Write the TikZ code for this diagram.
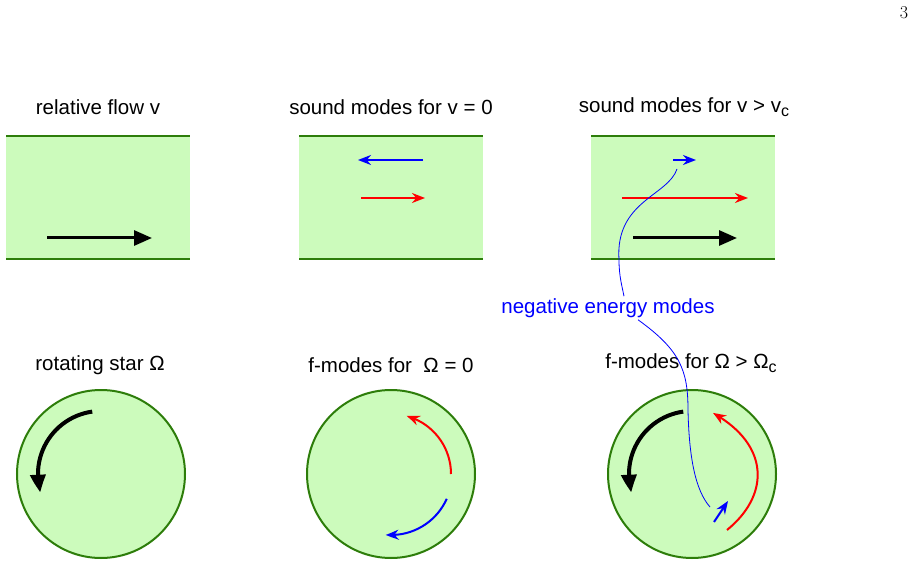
\documentclass[tikz,border=0pt]{standalone}
\usepackage{fontspec}
\setmainfont{Liberation Sans}
\newfontfamily\lmfont{Latin Modern Roman}
\usetikzlibrary{arrows.meta,bending}
\definecolor{pale}{RGB}{204,251,188}
\definecolor{dgreen}{RGB}{45,125,10}
\newcommand{\lowsub}[1]{{\fontsize{16}{16}\selectfont\raisebox{-4pt}{#1}}}
\begin{document}
\begin{tikzpicture}[x=1pt,y=1pt,
  lbl/.style={font=\fontsize{20.5}{23}\selectfont, inner sep=0},
  chan/.style={fill=pale, minimum width=184pt, minimum height=123pt, inner sep=0, anchor=south west},
  wall/.style={draw=dgreen, line width=2pt},
  star/.style={circle, fill=pale, draw=dgreen, line width=2pt, minimum size=168pt, inner sep=0},
  bigarr/.style={line width=3pt, -{Triangle[length=18pt,width=15pt]}},
  rotarr/.style={line width=4pt, -{Triangle[length=18pt,width=15pt,bend]}},
  modearr/.style={line width=2pt, -{Stealth[length=13pt,width=10pt,bend]}},
  pointer/.style={draw=blue, line width=0.8pt},
]
\useasboundingbox (0,0) rectangle (916,566);

% page number
\node[font=\lmfont\fontsize{18}{18}\selectfont, inner sep=0] (pg) at (904,553) {3};

% titles
\node[lbl] (t1) at (98,459) {relative flow v};
\node[lbl] (t2) at (391,459) {sound modes for v = 0};
\node[lbl] (t3) at (684,459) {sound modes for v > v\lowsub{c}};

% channels
\node[chan] (c1) at (6,307) {};
\node[chan] (c2) at (299,307) {};
\node[chan] (c3) at (591,307) {};
\foreach \c in {c1,c2,c3}{
  \draw[wall] (\c.north west) -- (\c.north east);
  \draw[wall] (\c.south west) -- (\c.south east);
}

% channel arrows
\draw[bigarr] (47,328) -- (152,328);
\draw[modearr, blue] (423,406) -- (358,406);
\draw[modearr, red] (361,368) -- (425,368);
\draw[modearr, blue] (673,406) -- (696,406);
\draw[modearr, red] (622,368) -- (748,368);
\draw[bigarr] (633,328) -- (737,328);

% circle labels
\node[lbl] (t4) at (100,201) {rotating star Ω};
\node[lbl] (t5) at (391,201) {f-modes for \ Ω = 0};
\node[lbl] (t6) at (691,203) {f-modes for Ω > Ω\lowsub{c}};

% stars
\node[star] (s1) at (101,92) {};
\node[star] (s2) at (391,92) {};
\node[star] (s3) at (692,92) {};

% star arrows
\draw[rotarr] ([shift={(98:63)}]s1.center) arc[start angle=98, end angle=197, radius=63];
\draw[rotarr] ([shift={(98:63)}]s3.center) arc[start angle=98, end angle=197, radius=63];
\draw[modearr, red] ([shift={(0:60)}]s2.center) arc[start angle=0, end angle=75, radius=60];
\draw[modearr, blue] ([shift={(-24:61)}]s2.center) arc[start angle=-24, end angle=-95, radius=61];
\draw[modearr, red] (727,36) .. controls (770,71) and (770,121) .. (713,153);
\draw[modearr, blue] (714,44) -- (728,65);

% negative energy modes label and pointer
\node[lbl, text=blue, inner sep=2pt] (neg) at (608,258) {negative energy modes};
\coordinate (pa) at (677,397);
\coordinate (pb) at (710,59);
\draw[pointer] (pa) .. controls (668,370) and (615,365) .. (619,306) .. controls (619,290) and (622,280) .. (neg.north -| 624,0);
\draw[pointer] (neg.south -| 638,0) .. controls (680,216) and (688,196) .. (688,156) .. controls (689,110) and (695,76) .. (pb);
\end{tikzpicture}
\end{document}
